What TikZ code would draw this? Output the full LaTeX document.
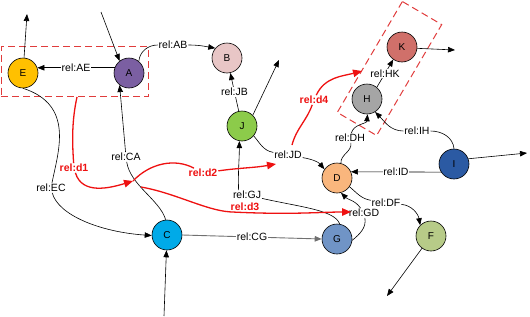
\documentclass[tikz,border=0pt]{standalone}
\usepackage{fontspec}
\setmainfont{Liberation Sans}
\usetikzlibrary{arrows.meta}
\definecolor{cE}{HTML}{FFC000}
\definecolor{cA}{HTML}{7B5FA2}
\definecolor{cB}{HTML}{E8C6C6}
\definecolor{cJ}{HTML}{8CCB4A}
\definecolor{cK}{HTML}{D0706A}
\definecolor{cH}{HTML}{A5A5A5}
\definecolor{cI}{HTML}{2B5AA3}
\definecolor{cD}{HTML}{F9B67D}
\definecolor{cF}{HTML}{B7CB88}
\definecolor{cG}{HTML}{7094C6}
\definecolor{cC}{HTML}{00AAE8}
\definecolor{rd}{HTML}{EE1111}
\definecolor{rdb}{HTML}{E03C3C}
\definecolor{gline}{HTML}{707070}
\begin{document}
\begin{tikzpicture}[x=1pt,y=1pt,
  nd/.style={circle,draw=black,line width=0.6pt,minimum size=30pt,inner sep=0pt,font=\fontsize{10}{12}\selectfont},
  lab/.style={fill=white,inner sep=0.8pt,font=\fontsize{10.5}{12}\selectfont},
  rlab/.style={fill=white,inner sep=0.8pt,text=rd,font=\fontsize{10.5}{12}\selectfont\bfseries},
  ed/.style={draw=black,line width=0.6pt,-{Triangle[length=7pt,width=5.5pt]}},
  pl/.style={draw=black,line width=0.6pt},
  redge/.style={draw=rd,line width=1.3pt,-{Triangle[length=9pt,width=7.5pt]}},
  grp/.style={draw=rdb,dash pattern=on 7pt off 4pt,line width=1pt,inner sep=0pt}
]
\useasboundingbox (0,0) rectangle (530,-316);
% groups
\node[grp,minimum width=147pt,minimum height=50pt] (g1) at (74.5,-71.5) {};
\node[grp,minimum width=128.6pt,minimum height=45.6pt,rotate=59.6] (g2) at (389.5,-68.5) {};
% nodes
\node[nd,fill=cE] (E) at (23,-73) {E};
\node[nd,fill=cA] (A) at (129,-73) {A};
\node[nd,fill=cB] (B) at (227,-58) {B};
\node[nd,fill=cJ] (J) at (242,-126) {J};
\node[nd,fill=cK] (K) at (402,-47) {K};
\node[nd,fill=cH] (H) at (367,-99) {H};
\node[nd,fill=cI] (I) at (454,-164) {I};
\node[nd,fill=cD] (D) at (337,-178) {D};
\node[nd,fill=cF] (F) at (431,-236) {F};
\node[nd,fill=cG] (G) at (337,-239) {G};
\node[nd,fill=cC] (C) at (167,-235) {C};
% free ends
\coordinate (eU) at (27,-14);
\coordinate (aIn) at (101,-12);
\coordinate (jU) at (279,-60);
\coordinate (kR) at (455,-50);
\coordinate (iR) at (527,-153);
\coordinate (fD) at (387,-296);
\coordinate (cIn) at (164,-316);
% labels
\node[lab] (lAB) at (173,-45) {rel:AB};
\node[lab] (lCA) at (126,-157) {rel:CA};
\node[lab] (lEC) at (51,-188) {rel:EC};
\node[lab] (lJD) at (288,-155) {rel:JD};
\node[lab] (lGJ) at (247,-195) {rel:GJ};
\node[lab] (lDH) at (350,-138) {rel:DH};
\node[lab] (lIH) at (417,-131) {rel:IH};
\node[lab] (lDF) at (386,-203) {rel:DF};
\node[lab] (lGD) at (364,-213) {rel:GD};
% black edges
\draw[ed] (E) -- (eU);
\draw[ed] (aIn) -- (A.128);
\draw[ed] (A.160) -- node[lab]{rel:AE} (E.20);
\draw[ed] (A.50) to[out=85,in=180] (lAB) to[out=0,in=170] (B.140);
\draw[ed] (J) -- node[lab]{rel:JB} (B);
\draw[ed] (J.45) -- (jU);
\draw[pl] (G.80) .. controls (335,-210) and (300,-207) .. (lGJ);
\draw[ed] (lGJ.150) to[out=92,in=-90] (J.-100);
\draw[ed] (J.-40) to[out=-50,in=170] (lJD) to[out=-10,in=130] (D.145);
\draw[ed] (D.75) to[out=95,in=-80] (lDH) to[out=75,in=-95] (H.-88);
\draw[ed] (I.north) to[out=95,in=0] (lIH) to[out=180,in=-45] (H.-58);
\draw[ed] (I.20) -- (iR);
\draw[ed] (I.212) -- node[lab]{rel:ID} (D.24);
\draw[ed] (H.50) -- node[lab]{rel:HK} (K.-125);
\draw[ed] (K.-5) -- (kR);
\draw[ed] (D.-35) to[out=-40,in=170] (lDF) to[out=-5,in=100] (F.135);
\draw[ed] (F) -- (fD);
\draw[ed] (G.-5) to[out=40,in=-80] (lGD) to[out=125,in=-45] (D.-75);
\draw[ed,draw=gline,line width=0.9pt] (C.east) -- node[lab]{rel:CG} (G.west);
\draw[ed] (cIn) -- (C);
\draw[ed] (E.-90) .. controls (75,-105) and (58,-152) .. (lEC) .. controls (58,-215) and (100,-232) .. (C.182);
\draw[ed] (C.95) .. controls (160,-200) and (130,-185) .. (lCA) -- (A.-128);
% red derived relations
\coordinate (p1) at (133,-181);
\coordinate (p2) at (276,-164);
\coordinate (p3) at (141,-187);
\coordinate (p4) at (351,-212);
\coordinate (p5) at (292,-145);
\coordinate (p6) at (362,-71);
\node[rlab] (ld1) at (74,-168) {rel:d1};
\node[rlab] (ld2) at (203,-173) {rel:d2};
\node[rlab] (ld3) at (245,-207) {rel:d3};
\node[rlab] (ld4) at (314,-100) {rel:d4};
\draw[redge] ([xshift=2.5pt]g1.south) .. controls (72,-120) and (72,-140) .. (ld1) .. controls (82,-195) and (110,-188) .. (p1);
\draw[redge] (p1) .. controls (150,-163) and (175,-158) .. (ld2) to[out=8,in=190] (p2);
\draw[redge] (p3) .. controls (175,-193) and (205,-210) .. (ld3.south west) .. controls (290,-215) and (320,-212) .. (p4);
\draw[redge] (p5) to[out=75,in=-110] (ld4) to[out=65,in=195] (p6);
\end{tikzpicture}
\end{document}
